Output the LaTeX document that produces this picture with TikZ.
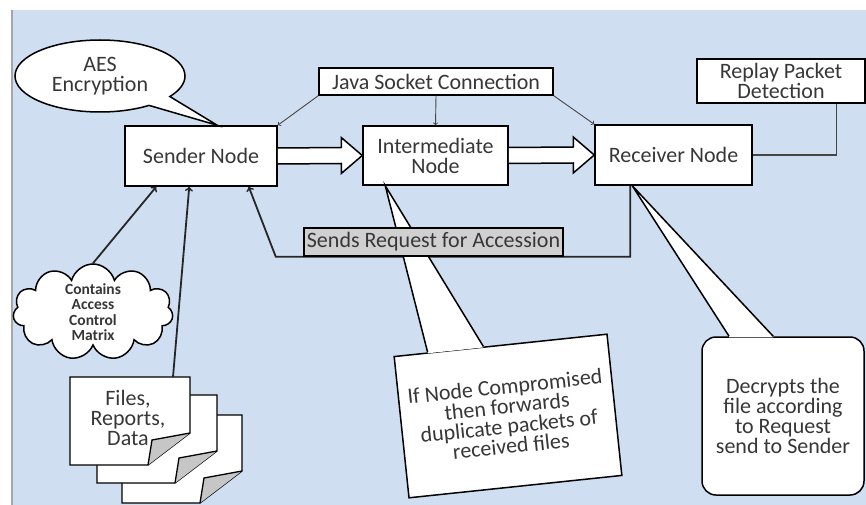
\documentclass[tikz,border=0pt]{standalone}
\usepackage{fontspec}
\setmainfont{Carlito}
\usetikzlibrary{calc,shapes.callouts,shapes.symbols}
\definecolor{bgblue}{RGB}{207,222,241}
\definecolor{reqgray}{RGB}{208,208,208}
\definecolor{wire}{RGB}{70,70,70}
\definecolor{ink}{RGB}{55,55,55}
\tikzset{
	txt/.style={font=\fontsize{22}{20}\selectfont, align=center, text=ink},
	box/.style={txt, draw, line width=1.5pt, fill=white, inner sep=2pt},
	fat/.style={draw, line width=1.5pt, fill=white},
	thinarrow/.style={->, wire, line width=0.9pt},
	thickarrow/.style={->, line width=1.8pt, black!85},
}

\begin{document}
\begin{tikzpicture}[x=1pt,y=-1pt]
		\useasboundingbox (0,0) rectangle (866,505);
		\fill[bgblue] (12,10) rectangle (866,505);
		\draw[gray!70, line width=2pt] (12,10) -- (12,505);

		\node[box, minimum width=152, minimum height=60] (snd) at (201,156) {Sender Node};
		\node[box, minimum width=145, minimum height=59] (mid) at (435.5,155.5) {Intermediate\\Node};
		\node[box, minimum width=157, minimum height=60] (rcv) at (673.5,155) {Receiver Node};
		\node[box, minimum width=234, minimum height=27] (java) at (436,81.5) {Java Socket Connection};
		\node[box, minimum width=168, minimum height=44] (replay) at (781,81) {Replay Packet\\Detection};

		\foreach \a/\b in {snd/mid, mid/rcv}
			\draw[fat] ($(\a.east)+(0,-8)$) -- ($(\b.west)+(-21,-8)$) -- ($(\b.west)+(-21,-18)$) -- (\b.west)
				-- ($(\b.west)+(-21,18)$) -- ($(\b.west)+(-21,8)$) -- ($(\a.east)+(0,8)$);

		\draw[thinarrow] (java.south west) -- (snd.north east);
		\draw[thinarrow] (java.south) -- (mid.north);
		\draw[thinarrow] (java.south east) -- (rcv.north west);
		\draw[wire, line width=1.2pt] ($(replay.south east)+(-29,0)$) |- (rcv.east);

		\draw[thickarrow] ($(rcv.south west)+(36,0)$) |- ($(snd.south east)+(-2,70)$) -- ($(snd.south east)+(-29,0)$);

		\node[txt, ellipse callout, draw, fill=white, line width=1.5pt, minimum width=170, minimum height=72,
			callout absolute pointer={($(snd.north west)+(93,0)$)}, callout pointer arc=20] (aes) at (100,76) {AES\\Encryption};

		\node[cloud, cloud puffs=11, cloud ignores aspect, draw, fill=white, line width=1.5pt, minimum width=160, minimum height=96,
			inner sep=0pt, align=center, text=ink, font=\bfseries\fontsize{15.5}{15.3}\selectfont] (cloud) at (93,312) {Contains\\Access\\Control\\Matrix};
		\draw[thickarrow] (cloud.north) -- ($(snd.south west)+(32,0)$);

		\foreach \dx/\dy in {52/38, 27/18, 0/0}{
			\begin{scope}[shift={(70+\dx,377+\dy)}]
				\draw[line width=1.3pt, fill=white] (0,0) -- (120,0) -- (120,56) -- (78,88) -- (0,88) -- cycle;
				\draw[line width=1.3pt, fill=gray!45] (120,56) -- (82,63) -- (78,88);
			\end{scope}
		}
		\node[txt] (files) at (128,418) {Files,\\Reports,\\Data};
		\coordinate (filetop) at (173,377);
		\draw[thickarrow] (filetop) -- ($(snd.south west)+(65,0)$);

		\node[box, rotate=6, minimum width=214, minimum height=142] (cmp) at (508,416) {If Node Compromised\\then forwards\\duplicate packets of\\received files};
		\coordinate (cmpa) at ($(cmp.north west)!0.16!(cmp.north east)$);
		\coordinate (cmpb) at ($(cmp.north west)!0.42!(cmp.north east)$);
		\fill[white] (cmpa) -- ($(mid.south west)+(23,0)$) -- (cmpb) -- cycle;
		\draw[white, line width=2pt] (cmpa) -- (cmpb);
		\draw[line width=1.5pt] (cmpa) -- ($(mid.south west)+(23,0)$) -- (cmpb);

		\node[box, rounded corners=14, minimum width=162, minimum height=158] (dec) at (783,416) {Decrypts the\\file according\\to Request\\send to Sender};
		\coordinate (deca) at ($(dec.north west)!0.17!(dec.north east)$);
		\coordinate (decb) at ($(dec.north west)!0.44!(dec.north east)$);
		\fill[white] (deca) -- ($(rcv.south west)+(38,0)$) -- (decb) -- cycle;
		\draw[white, line width=2pt] (deca) -- (decb);
		\draw[line width=1.5pt] (deca) -- ($(rcv.south west)+(38,0)$) -- (decb);

		\node[box, fill=reqgray, minimum width=259, minimum height=28] (req) at (433.5,242) {Sends Request for Accession};
	\end{tikzpicture}
\end{document}
